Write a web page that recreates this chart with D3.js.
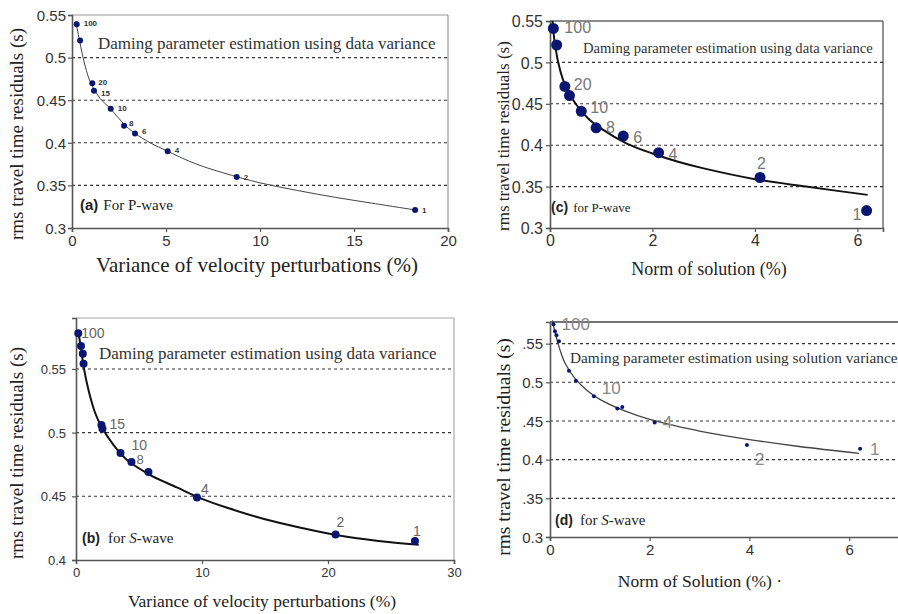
<!DOCTYPE html>
<html><head><meta charset="utf-8">
<script src="https://cdn.jsdelivr.net/npm/d3@7"></script>
<style>
html,body{margin:0;padding:0;background:#fff;}
svg{display:block;}
</style></head>
<body>
<svg id="chart" width="898" height="614"></svg>
<script>
// ---------- DATA ----------
// Panel (a): P-wave, variance of velocity perturbations
const aX = [0.25, 0.43, 1.08, 1.17, 2.06, 2.77, 3.35, 5.09, 8.76, 18.25];
const aY = [0.539, 0.52, 0.47, 0.461, 0.44, 0.42, 0.411, 0.39, 0.36, 0.321];
const aLabels = ["100", "", "20", "15", "10", "8", "6", "4", "2", "1"];
const aTrendX = [0.2, 0.4, 0.7, 1.0, 1.5, 2, 3, 4, 5, 6.5, 8, 10, 12, 14, 16, 18.3];
const aTrendY = [0.543, 0.52, 0.49, 0.47, 0.452, 0.441, 0.417, 0.402, 0.391, 0.376, 0.365, 0.353, 0.344, 0.336, 0.329, 0.321];
const aXTicks = [0, 5, 10, 15, 20];
const aYTicks = [0.3, 0.35, 0.4, 0.45, 0.5, 0.55];
const aYTickLabels = ["0.3", "0.35", "0.4", "0.45", "0.5", "0.55"];

// Panel (c): P-wave, norm of solution
const cX = [0.065, 0.13, 0.29, 0.38, 0.61, 0.90, 1.43, 2.12, 4.1, 6.18];
const cY = [0.541, 0.521, 0.471, 0.46, 0.441, 0.421, 0.411, 0.391, 0.361, 0.321];
const cLabels = ["100", "", "20", "", "10", "8", "6", "4", "2", "1"];
const cTrendX = [0.05, 0.1, 0.2, 0.3, 0.5, 0.75, 1, 1.5, 2, 2.5, 3, 4, 5, 6.2];
const cTrendY = [0.55, 0.52, 0.49, 0.472, 0.45, 0.432, 0.42, 0.402, 0.39, 0.38, 0.372, 0.359, 0.35, 0.34];
const cXTicks = [0, 2, 4, 6];
const cYTicks = [0.3, 0.35, 0.4, 0.45, 0.5, 0.55];
const cYTickLabels = ["0.3", "0.35", "0.4", "0.45", "0.5", "0.55"];

// Panel (b): S-wave, variance of velocity perturbations
const bX = [0.18, 0.4, 0.54, 0.6, 2.02, 2.1, 3.53, 4.4, 5.75, 9.6, 20.6, 26.9];
const bY = [0.578, 0.568, 0.562, 0.554, 0.506, 0.503, 0.484, 0.477, 0.469, 0.449, 0.42, 0.415];
const bLabels = ["100", "", "", "", "15", "", "", "10", "", "4", "2", "1"];
const bExtraLabels = ["8"];
const bTrendX = [0.2, 0.4, 0.6, 1, 1.5, 2, 3, 4, 5, 6, 8, 10, 12, 15, 18, 21, 24, 27.2];
const bTrendY = [0.578, 0.566, 0.552, 0.533, 0.516, 0.505, 0.49, 0.479, 0.472, 0.466, 0.457, 0.448, 0.441, 0.432, 0.425, 0.419, 0.415, 0.412];
const bXTicks = [0, 10, 20, 30];
const bYTicks = [0.4, 0.45, 0.5, 0.55];
const bYTickLabels = ["0.4", "0.45", "0.5", "0.55"];

// Panel (d): S-wave, norm of solution
const dX = [0.07, 0.1, 0.13, 0.18, 0.38, 0.52, 0.88, 1.35, 1.45, 2.1, 3.95, 6.22];
const dY = [0.575, 0.566, 0.561, 0.553, 0.515, 0.502, 0.482, 0.466, 0.468, 0.448, 0.419, 0.414];
const dLabels = ["100", "", "", "", "", "", "10", "", "", "4", "2", "1"];
const dTrendX = [0.05, 0.1, 0.2, 0.3, 0.5, 0.75, 1, 1.5, 2, 2.5, 3, 4, 5, 6.2];
const dTrendY = [0.58, 0.565, 0.542, 0.525, 0.505, 0.489, 0.478, 0.463, 0.452, 0.444, 0.437, 0.426, 0.417, 0.408];
const dXTicks = [0, 2, 4, 6];
const dYTicks = [0.3, 0.35, 0.4, 0.45, 0.5, 0.55];
const dYTickLabels = ["0.3", ".35", "0.4", ".45", "0.5", ".55"];

const yTitle = "rms travel time residuals (s)";
const xTitleVar = "Variance of velocity perturbations (%)";
const xTitleNorm = "Norm of solution (%)";
const xTitleNormD = "Norm of Solution (%)";
const noteData = "Daming parameter estimation using data variance";
const noteSol = "Daming parameter estimation using solution variance";

// ---------- DRAW ----------
const svg = d3.select("#chart");
const SERIF = "'Liberation Serif','Times New Roman',serif";
const SANS = "'Liberation Sans',Arial,sans-serif";
const NARROW = "'Liberation Sans Narrow','Arial Narrow','Liberation Sans',sans-serif";
const DOT = "#0b1670";

function panel(p) {
  const g = svg.append("g");
  const x = d3.scaleLinear().domain(p.xDomain).range(p.xRange);
  const y = d3.scaleLinear().domain(p.yDomain).range(p.yRange);
  const [x0, x1] = p.xRange, [y0, y1] = p.yRange;

  // frame (top/right)
  g.append("line").attr("x1", x0).attr("x2", x1).attr("y1", y1).attr("y2", y1)
    .attr("stroke", p.frameColor).attr("stroke-width", p.frameWidth);
  g.append("line").attr("x1", x1).attr("x2", x1).attr("y1", y1).attr("y2", y0)
    .attr("stroke", p.frameColor).attr("stroke-width", p.frameWidth);

  // grid
  g.selectAll(".grid").data(p.grid).join("line")
    .attr("x1", x0).attr("x2", x1)
    .attr("y1", d => y(d)).attr("y2", d => y(d))
    .attr("stroke", "#333").attr("stroke-width", 1.1).attr("stroke-dasharray", "3,3");

  // axes
  const yAxis = d3.axisLeft(y).tickValues(p.yTicks).tickSize(4)
    .tickFormat((d, i) => p.yTickLabels[i]);
  const xAxis = d3.axisBottom(x).tickValues(p.xTicks).tickSize(4).tickFormat(d3.format("d"));
  const ya = g.append("g").attr("transform", `translate(${x0},0)`).call(yAxis);
  const xa = g.append("g").attr("transform", `translate(0,${y0})`).call(xAxis);
  [ya, xa].forEach(a => {
    a.select(".domain").attr("stroke", "#555").attr("stroke-width", 1.6);
    a.selectAll(".tick line").attr("stroke", "#555").attr("stroke-width", 1.2);
    a.selectAll(".tick text").attr("fill", "#333")
      .style("font-family", p.tickFont).style("font-size", p.tickSize + "px");
  });
  ya.selectAll(".tick text").attr("x", -p.yTickPad).attr("dy", "0.35em");
  xa.selectAll(".tick text").attr("y", p.xTickPad).attr("dy", "0.71em");

  // trend line
  const line = d3.line().x(d => x(d[0])).y(d => y(d[1])).curve(d3.curveCatmullRom.alpha(0.5));
  g.append("path").datum(d3.zip(p.trendX, p.trendY))
    .attr("d", line).attr("fill", "none")
    .attr("stroke", p.lineColor).attr("stroke-width", p.lineWidth);

  // points
  const pts = d3.zip(p.px, p.py, p.labels);
  g.selectAll(".pt").data(pts).join("circle")
    .attr("cx", d => x(d[0])).attr("cy", d => y(d[1])).attr("r", p.r)
    .attr("fill", DOT);

  // point labels
  g.selectAll(".lbl").data(pts.filter(d => d[2] !== "")).join("text")
    .attr("x", d => x(d[0]) + (p.labelOff[d[2]] || [6, 0])[0])
    .attr("y", d => y(d[1]) + (p.labelOff[d[2]] || [6, 0])[1])
    .attr("dy", "0.35em")
    .style("font-family", p.labelFont).style("font-size", p.labelSize + "px")
    .style("font-weight", p.labelWeight || "normal")
    .attr("fill", p.labelColor).text(d => d[2]);
  if (p.extra) p.extra(g, x, y);

  // annotation
  g.append("text").attr("x", p.note[0]).attr("y", p.note[1])
    .style("font-family", SERIF).style("font-size", p.noteSize + "px")
    .attr("fill", "#333").text(p.noteText);

  // panel tag
  const t = g.append("text").attr("x", p.tag[0]).attr("y", p.tag[1])
    .style("font-size", p.tagSize + "px").attr("fill", "#222");
  t.append("tspan").style("font-family", SANS).style("font-weight", "bold").text(p.tagLetter);
  t.append("tspan").style("font-family", SERIF).attr("dx", p.tagGap)
    .style("font-size", p.tagTextSize + "px").text(p.tagText1);
  if (p.tagItalic) {
    t.append("tspan").style("font-family", SERIF).style("font-style", "italic")
      .style("font-size", p.tagTextSize + "px").text(p.tagItalic);
    t.append("tspan").style("font-family", SERIF)
      .style("font-size", p.tagTextSize + "px").text(p.tagText2);
  }

  // axis titles
  g.append("text").attr("transform", `translate(${p.yTitlePos[0]},${p.yTitlePos[1]}) rotate(-90)`)
    .attr("text-anchor", "middle").attr("dy", "0.35em")
    .style("font-family", SERIF).style("font-size", p.yTitleSize + "px")
    .attr("fill", "#222").text(yTitle);
  g.append("text").attr("x", p.xTitlePos[0]).attr("y", p.xTitlePos[1])
    .attr("text-anchor", "middle")
    .style("font-family", SERIF).style("font-size", p.xTitleSize + "px")
    .attr("fill", "#222").text(p.xTitle);
}

panel({
  xDomain: [0, 20], xRange: [72, 448], yDomain: [0.3, 0.55], yRange: [228, 15],
  frameColor: "#999", frameWidth: 1.2,
  grid: [0.35, 0.4, 0.45, 0.5],
  xTicks: aXTicks, yTicks: aYTicks, yTickLabels: aYTickLabels,
  tickFont: SANS, tickSize: 15, yTickPad: 6, xTickPad: 7,
  trendX: aTrendX, trendY: aTrendY, lineColor: "#444", lineWidth: 1,
  px: aX, py: aY, labels: aLabels, r: 3,
  labelFont: SANS, labelSize: 8, labelWeight: "bold", labelColor: "#333",
  labelOff: {"100": [7, -1], "20": [6, -1], "15": [7, 2], "10": [7, -1], "8": [5, -3], "6": [7, -2], "4": [7, -1], "2": [7, 0], "1": [7, 0]},
  note: [98, 49], noteSize: 17, noteText: noteData,
  tag: [80, 210], tagSize: 15, tagLetter: "(a)", tagGap: 5, tagTextSize: 15, tagText1: "For P-wave",
  yTitlePos: [16, 134], yTitleSize: 19,
  xTitlePos: [257, 272], xTitleSize: 21, xTitle: xTitleVar
});

panel({
  xDomain: [0, 6.5], xRange: [550, 883], yDomain: [0.3, 0.55], yRange: [228, 21],
  frameColor: "#666", frameWidth: 1.4,
  grid: [0.35, 0.4, 0.45, 0.5],
  xTicks: cXTicks, yTicks: cYTicks, yTickLabels: cYTickLabels,
  tickFont: NARROW, tickSize: 16, yTickPad: 7, xTickPad: 7,
  trendX: cTrendX, trendY: cTrendY, lineColor: "#111", lineWidth: 2,
  px: cX, py: cY, labels: cLabels, r: 5.5,
  labelFont: NARROW, labelSize: 16, labelColor: "#777",
  labelOff: {"100": [11, -1], "20": [9, -2], "10": [9, -4], "8": [10, 0], "6": [10, 1], "4": [10, 2], "2": [-3, -14], "1": [-14, 4]},
  note: [583, 53], noteSize: 14.6, noteText: noteData,
  tag: [551, 212], tagSize: 14, tagLetter: "(c)", tagGap: 5, tagTextSize: 13, tagText1: "for P-wave",
  yTitlePos: [503, 136], yTitleSize: 17,
  xTitlePos: [709, 275], xTitleSize: 18, xTitle: xTitleNorm
});

panel({
  xDomain: [0, 30], xRange: [76, 454], yDomain: [0.4, 0.59], yRange: [560, 318],
  frameColor: "#aaa", frameWidth: 1.2,
  grid: [0.45, 0.5, 0.55],
  xTicks: bXTicks, yTicks: bYTicks, yTickLabels: bYTickLabels,
  tickFont: NARROW, tickSize: 13, yTickPad: 10, xTickPad: 8,
  trendX: bTrendX, trendY: bTrendY, lineColor: "#111", lineWidth: 2,
  px: bX, py: bY, labels: bLabels, r: 4,
  labelFont: NARROW, labelSize: 14, labelColor: "#666",
  labelOff: {"100": [3, 0], "15": [8, -1], "10": [0, -17], "4": [4, -8], "2": [1, -12], "1": [-2, -10]},
  extra: (g, x, y) => {
    g.append("text").attr("x", x(bX[7]) + 5).attr("y", y(bY[7]) - 2).attr("dy", "0.35em")
      .style("font-family", NARROW).style("font-size", "13px").attr("fill", "#666").text(bExtraLabels[0]);
  },
  note: [99, 359], noteSize: 17, noteText: noteData,
  tag: [82, 543], tagSize: 14, tagLetter: "(b)", tagGap: 8, tagTextSize: 15, tagText1: "for ", tagItalic: "S", tagText2: "-wave",
  yTitlePos: [16, 453], yTitleSize: 19,
  xTitlePos: [262, 607], xTitleSize: 17.5, xTitle: xTitleVar
});

panel({
  xDomain: [0, 7], xRange: [550, 899], yDomain: [0.3, 0.578], yRange: [537, 322],
  frameColor: "#444", frameWidth: 1.6,
  grid: [0.35, 0.4, 0.45, 0.5, 0.55],
  xTicks: dXTicks, yTicks: dYTicks, yTickLabels: dYTickLabels,
  tickFont: SANS, tickSize: 15, yTickPad: 7, xTickPad: 7,
  trendX: dTrendX, trendY: dTrendY, lineColor: "#444", lineWidth: 1.3,
  px: dX, py: dY, labels: dLabels, r: 2,
  labelFont: NARROW, labelSize: 17, labelColor: "#888",
  labelOff: {"100": [8, 0], "10": [8, -8], "4": [8, 0], "2": [8, 14], "1": [10, 0]},
  note: [570, 363], noteSize: 15.3, noteText: noteSol,
  tag: [555, 525], tagSize: 14, tagLetter: "(d)", tagGap: 7, tagTextSize: 15, tagText1: "for ", tagItalic: "S", tagText2: "-wave",
  yTitlePos: [503, 447], yTitleSize: 19.5,
  xTitlePos: [700, 587], xTitleSize: 17.5, xTitle: xTitleNormD + " \u00b7"
});
</script>
</body></html>
